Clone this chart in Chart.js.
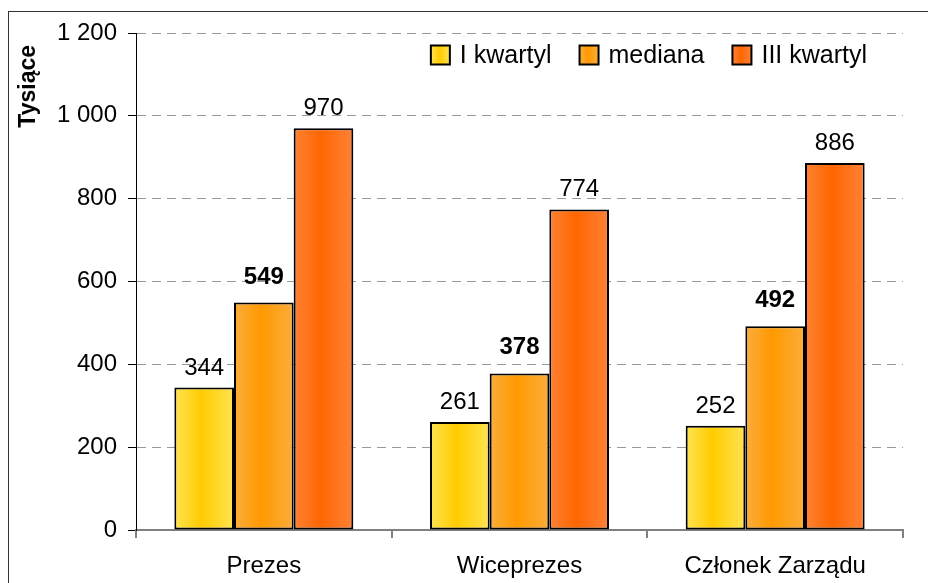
<!DOCTYPE html>
<html>
<head>
<meta charset="utf-8">
<script src="https://cdn.jsdelivr.net/npm/chart.js@4/dist/chart.umd.min.js"></script>
<style>
  html, body { margin: 0; padding: 0; background: #fff; }
  #wrap { width: 928px; height: 583px; position: relative; }
</style>
</head>
<body>
<div id="wrap"><canvas id="chart"></canvas></div>
<script>
const categories = ["Prezes", "Wiceprezes", "Członek Zarządu"];
const seriesNames = ["I kwartyl", "mediana", "III kwartyl"];
const q1 = [344, 261, 252];
const median = [549, 378, 492];
const q3 = [970, 774, 886];
const yTicks = [0, 200, 400, 600, 800, 1000, 1200];

const FONT = "'Liberation Sans', Arial, sans-serif";
// edge colour, centre colour for each series
const shades = [
    ["#ffe352", "#ffcc00"],
    ["#fbad3c", "#ff9900"],
    ["#ff8236", "#ff6600"]
];

function barGradient(chart, left, width, i) {
    const g = chart.ctx.createLinearGradient(left, 0, left + width, 0);
    g.addColorStop(0, shades[i][0]);
    g.addColorStop(0.45, shades[i][1]);
    g.addColorStop(1, shades[i][0]);
    return g;
}

function barFill(ctx) {
    const chart = ctx.chart;
    const x = chart.scales.x;
    if (ctx.dataIndex === undefined || !x || !x.width) return shades[ctx.datasetIndex][1];
    const barW = x.width / categories.length * 0.7 / 3;
    const left = x.getPixelForValue(ctx.dataIndex) - 1.5 * barW + ctx.datasetIndex * barW;
    return barGradient(chart, left, barW, ctx.datasetIndex);
}

function fmt(v) {
    return String(v).replace(/\B(?=(\d{3})+(?!\d))/g, " ");
}

const extras = {
    id: "extras",
    beforeDraw(chart) {
        const c = chart.ctx;
        c.save();
        c.fillStyle = "#fff";
        c.fillRect(0, 0, chart.width, chart.height);
        c.strokeStyle = "#333";
        c.lineWidth = 1;
        c.strokeRect(8.5, 11.5, chart.width + 20, chart.height + 20);
        c.restore();
    },
    afterDatasetsDraw(chart) {
        const c = chart.ctx;
        c.save();
        c.fillStyle = "#000";
        c.textAlign = "center";
        c.textBaseline = "alphabetic";
        chart.data.datasets.forEach((ds, i) => {
            const bold = i === 1;
            c.font = (bold ? "bold " : "") + "24px " + FONT;
            chart.getDatasetMeta(i).data.forEach((bar, j) => {
                c.fillText(fmt(ds.data[j]), bar.x, bar.y - (bold ? 19 : 13));
            });
        });
        c.restore();
    },
    afterDraw(chart) {
        const c = chart.ctx;
        const area = chart.chartArea;
        c.save();
        // y axis title
        c.font = "bold 23px " + FONT;
        c.fillStyle = "#000";
        c.translate(35, 45);
        c.rotate(-Math.PI / 2);
        c.textAlign = "right";
        c.textBaseline = "alphabetic";
        c.fillText("Tysiące", 0, 0);
        c.restore();

        // legend, right aligned inside the plot
        c.save();
        c.font = "25px " + FONT;
        c.textBaseline = "middle";
        c.textAlign = "left";
        const box = 19, gapText = 10, gapItem = 28;
        const widths = seriesNames.map(n => c.measureText(n).width);
        let total = 0;
        widths.forEach(w => { total += box + gapText + w; });
        total += gapItem * (seriesNames.length - 1);
        let x = area.right - 36 - total;
        const yMid = 55;
        seriesNames.forEach((n, i) => {
            c.fillStyle = barGradient(chart, x, box, i);
            c.fillRect(x, yMid - box / 2, box, box);
            c.strokeStyle = "#000";
            c.lineWidth = 2;
            c.strokeRect(x, yMid - box / 2, box, box);
            c.fillStyle = "#000";
            c.fillText(n, x + box + gapText, yMid + 1);
            x += box + gapText + widths[i] + gapItem;
        });
        c.restore();
    }
};

const datasets = [q1, median, q3].map((vals, i) => ({
    label: seriesNames[i],
    data: vals,
    backgroundColor: barFill,
    borderColor: "#000",
    borderWidth: 2,
    borderSkipped: false,
    categoryPercentage: 0.7,
    barPercentage: 1
}));

new Chart(document.getElementById("chart"), {
    type: "bar",
    data: { labels: categories, datasets: datasets },
    options: {
        responsive: true,
        maintainAspectRatio: false,
        animation: false,
        layout: { padding: { left: 0, right: 25, top: 33, bottom: 0 } },
        plugins: {
            legend: { display: false },
            tooltip: { enabled: false }
        },
        scales: {
            x: {
                grid: {
                    offset: true,
                    drawOnChartArea: false,
                    tickLength: 8,
                    tickColor: "#808080",
                    lineWidth: 2
                },
                border: { color: "#808080", width: 2 },
                ticks: { color: "#000", font: { family: FONT, size: 24 }, padding: 14, maxRotation: 0 },
                afterFit(scale) { scale.height = 53; }
            },
            y: {
                min: 0,
                max: 1200,
                afterBuildTicks(scale) { scale.ticks = yTicks.map(v => ({ value: v })); },
                grid: {
                    color: "#999",
                    tickColor: "#000",
                    tickLength: 8,
                    lineWidth: 1
                },
                border: { color: "#000", width: 1, dash: [9, 6] },
                ticks: {
                    color: "#000",
                    font: { family: FONT, size: 24 },
                    padding: 11,
                    callback: v => fmt(v)
                },
                afterFit(scale) { scale.width = 136; }
            }
        }
    },
    plugins: [extras]
});
</script>
</body>
</html>
